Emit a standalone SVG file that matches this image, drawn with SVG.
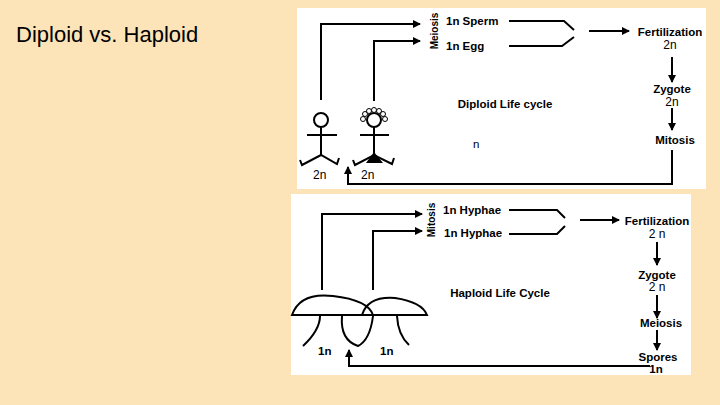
<svg xmlns="http://www.w3.org/2000/svg" width="720" height="405" viewBox="0 0 720 405">
<defs><marker id="a" markerWidth="8" markerHeight="8" refX="7" refY="4" orient="auto" markerUnits="userSpaceOnUse"><path d="M0,0L8,4L0,8z" fill="#000"/></marker></defs>
<style>
.l{fill:none;stroke:#000;stroke-width:2}
.t{font-family:"Liberation Sans",Arial,sans-serif;font-weight:bold;font-size:11.5px;fill:#000}
.c{text-anchor:middle}
</style>
<rect width="720" height="405" fill="#FCE4B8"/>
<text x="16" y="42" font-family="Liberation Sans,Arial,sans-serif" font-size="22" fill="#000">Diploid vs. Haploid</text>
<rect x="297" y="8" width="409" height="181" fill="#fff"/>
<rect x="291" y="194" width="400" height="181" fill="#fff"/>
<g id="connectors">
<path class="l" d="M321,100V24H420" marker-end="url(#a)"/>
<path class="l" d="M374,101V41H420" marker-end="url(#a)"/>
<path class="l" d="M509,21H564L574,30M509,46H562L574,37"/>
<path class="l" d="M589,31H629" marker-end="url(#a)"/>
<path class="l" d="M672,57V82" marker-end="url(#a)"/>
<path class="l" d="M672,108V130" marker-end="url(#a)"/>
<path class="l" d="M672,150V184H348V167" marker-end="url(#a)"/>
<path class="l" d="M322,290V214H422" marker-end="url(#a)"/>
<path class="l" d="M373,290V231H422" marker-end="url(#a)"/>
<path class="l" d="M509,210H557L565,218M509,234H557L565,226"/>
<path class="l" d="M580,220H619" marker-end="url(#a)"/>
<path class="l" d="M657,242V265" marker-end="url(#a)"/>
<path class="l" d="M657,295V318" marker-end="url(#a)"/>
<path class="l" d="M657,330V350" marker-end="url(#a)"/>
<path class="l" d="M650,366H349V350" marker-end="url(#a)"/>
</g>
<g id="male">
<circle cx="321" cy="120" r="7" class="l" stroke-width="1.5"/>
<path class="l" d="M321,127V155M307,135H337M300,160L302,165L321,155L337,164L339,158" stroke-width="1.5"/>
<text class="t" x="313" y="179" style="font-weight:normal;font-size:12px">2n</text>
</g>
<g id="female">
<circle cx="374" cy="120" r="7" class="l" stroke-width="1.5"/>
<g fill="#fff" stroke="#000"><circle cx="363" cy="119" r="2.5"/><circle cx="365" cy="114" r="2.5"/><circle cx="369" cy="111" r="2.5"/><circle cx="374" cy="110" r="2.5"/><circle cx="379" cy="111" r="2.5"/><circle cx="383" cy="114" r="2.5"/><circle cx="385" cy="119" r="2.5"/></g>
<path class="l" d="M374,127V155M360,135H389M353,160L355,165L374,155L392,164L394,158" stroke-width="1.5"/>
<path d="M374,152L366,163H383z"/>
<text class="t" x="361" y="179" style="font-weight:normal;font-size:12px">2n</text>
</g>
<g id="top-labels">
<text class="t" transform="translate(438,31) rotate(-90)" text-anchor="middle" style="font-size:10px">Meiosis</text>
<text class="t" x="446" y="25">1n Sperm</text>
<text class="t" x="446" y="50">1n  Egg</text>
<text class="t c" x="670" y="36">Fertilization</text>
<text class="t c" x="670" y="49" style="font-size:12px;font-weight:normal">2n</text>
<text class="t c" x="672" y="93">Zygote</text>
<text class="t c" x="672" y="106" style="font-size:12px;font-weight:normal">2n</text>
<text class="t c" x="675" y="144">Mitosis</text>
<text class="t c" x="505" y="108">Diploid Life cycle</text>
<text class="t" x="473" y="148" style="font-weight:normal">n</text>
</g>
<g id="mushrooms">
<path class="l" stroke-width="1.5" d="M292,315Q300,292 333,296Q368,300 373,315Z"/>
<path class="l" stroke-width="1.5" d="M362,315Q368,296 395,298Q422,302 427,315H373"/>
<path class="l" stroke-width="1.5" d="M320,316Q320,330 303,346M342,316Q340,340 358,346Q370,340 373,316M397,316Q398,335 409,345"/>
<text class="t" x="318" y="355">1n</text>
<text class="t" x="380" y="355">1n</text>
</g>
<g id="bottom-labels">
<text class="t" transform="translate(435,220) rotate(-90)" text-anchor="middle" style="font-size:10px">Mitosis</text>
<text class="t" x="443" y="214">1n Hyphae</text>
<text class="t" x="444" y="237">1n Hyphae</text>
<text class="t c" x="657" y="225">Fertilization</text>
<text class="t c" x="657" y="238" style="font-size:12px;font-weight:normal">2 n</text>
<text class="t c" x="657" y="279">Zygote</text>
<text class="t c" x="657" y="291" style="font-size:12px;font-weight:normal">2 n</text>
<text class="t c" x="661" y="327">Meiosis</text>
<text class="t c" x="658" y="361">Spores</text>
<text class="t c" x="656" y="373">1n</text>
<text class="t c" x="500" y="297">Haploid Life Cycle</text>
</g>
</svg>
